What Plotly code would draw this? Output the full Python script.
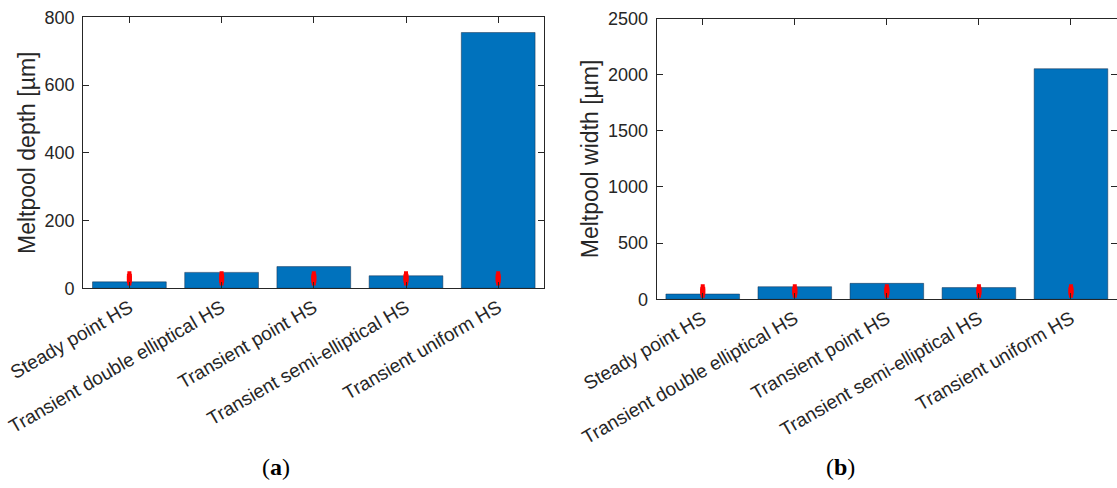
import plotly.graph_objects as go

categories = ["Steady point HS", "Transient double elliptical HS", "Transient point HS",
              "Transient semi-elliptical HS", "Transient uniform HS"]
depth_sim = [19, 47, 64, 37, 755]
width_sim = [47, 112, 142, 104, 2053]
depth_exp = [29.5] * 5
depth_exp_err = [13.5] * 5
width_exp = [74] * 5
width_exp_err = [38] * 5

depth_ticks = [0, 200, 400, 600, 800]
width_ticks = [0, 500, 1000, 1500, 2000, 2500]

W, H = 1117, 488
AX = "#262626"
BLUE = "#0072BD"
FONT = "Liberation Sans, Arial, Helvetica, sans-serif"

fig = go.Figure()

fig.add_trace(go.Bar(x=categories, y=depth_sim, xaxis="x", yaxis="y", width=0.8,
                     marker=dict(color=BLUE, line=dict(color="rgba(20,40,70,0.8)", width=0.6)),
                     showlegend=False))
fig.add_trace(go.Scatter(x=categories, y=depth_exp, xaxis="x", yaxis="y", mode="markers",
                         marker=dict(color="red", size=5, symbol="square"),
                         error_y=dict(type="data", array=depth_exp_err, color="red", thickness=5, width=2),
                         showlegend=False))
fig.add_trace(go.Bar(x=categories, y=width_sim, xaxis="x2", yaxis="y2", width=0.8,
                     marker=dict(color=BLUE, line=dict(color="rgba(20,40,70,0.8)", width=0.6)),
                     showlegend=False))
fig.add_trace(go.Scatter(x=categories, y=width_exp, xaxis="x2", yaxis="y2", mode="markers",
                         marker=dict(color="red", size=5, symbol="square"),
                         error_y=dict(type="data", array=width_exp_err, color="red", thickness=5, width=2),
                         showlegend=False))

def xax(domain):
    return dict(domain=domain, range=[-0.5, 4.5], showline=True, linecolor=AX, linewidth=1.2,
                mirror="ticks", ticks="inside", ticklen=6, tickcolor=AX, tickwidth=1.2,
                tickangle=-30, tickfont=dict(family=FONT, size=19, color=AX),
                showgrid=False, zeroline=False, layer="above traces", automargin=False)

def yax(domain, rng, ticks, title, anchor):
    return dict(domain=domain, range=rng, tickvals=ticks, showline=True, linecolor=AX, linewidth=1.2,
                mirror="ticks", ticks="inside", ticklen=6, tickcolor=AX, tickwidth=1.2,
                tickfont=dict(family=FONT, size=18, color=AX), ticklabelstandoff=4,
                title=dict(text=title, font=dict(family=FONT, size=23, color=AX), standoff=2),
                showgrid=False, zeroline=False, anchor=anchor, layer="above traces", automargin=False)

fig.update_layout(
    width=W, height=H,
    margin=dict(l=0, r=0, t=0, b=0, autoexpand=False),
    paper_bgcolor="white", plot_bgcolor="white",
    xaxis=dict(**xax([83.3 / W, 544.3 / W]), anchor="y"),
    yaxis=yax([(H - 288.3) / H, (H - 17.3) / H], [0, 800], depth_ticks, "Meltpool depth [µm]", "x"),
    xaxis2=dict(**xax([656.7 / W, 1.0]), anchor="y2"),
    yaxis2=yax([(H - 299.3) / H, (H - 18.5) / H], [0, 2500], width_ticks, "Meltpool width [µm]", "x2"),
    annotations=[
        dict(text="(<b>a</b>)", x=276 / W, y=6 / H, xref="paper", yref="paper",
             xanchor="center", yanchor="bottom",
             showarrow=False, font=dict(family="Liberation Serif, serif", size=24, color="black")),
        dict(text="(<b>b</b>)", x=840 / W, y=6 / H, xref="paper", yref="paper",
             xanchor="center", yanchor="bottom",
             showarrow=False, font=dict(family="Liberation Serif, serif", size=24, color="black")),
    ],
)

fig.write_html("out.html")
